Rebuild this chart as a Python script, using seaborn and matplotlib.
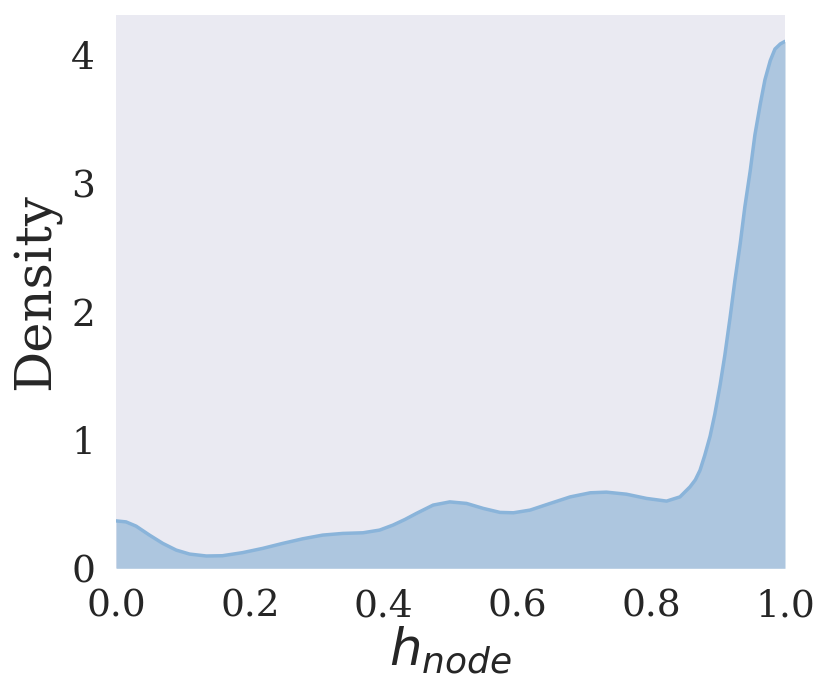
import matplotlib
matplotlib.use("Agg")
import matplotlib.pyplot as plt
import seaborn as sns
import pandas as pd

# Density curve (node homophily KDE)
h_node = [0.000, 0.015, 0.030, 0.050, 0.070, 0.090, 0.110, 0.135, 0.159, 0.189,
          0.219, 0.249, 0.279, 0.309, 0.339, 0.369, 0.394, 0.414, 0.432,
          0.449, 0.474, 0.499, 0.524, 0.549, 0.574, 0.594, 0.619, 0.649, 0.679,
          0.709, 0.733, 0.763, 0.793, 0.823, 0.843, 0.858, 0.866, 0.873, 0.880,
          0.888, 0.895, 0.903, 0.910, 0.918, 0.925, 0.933, 0.940, 0.948, 0.955,
          0.963, 0.970, 0.978, 0.985, 0.993, 1.000]
density = [0.370, 0.362, 0.329, 0.259, 0.194, 0.142, 0.111, 0.096, 0.098, 0.122,
           0.155, 0.194, 0.230, 0.259, 0.272, 0.277, 0.298, 0.337, 0.381,
           0.428, 0.493, 0.518, 0.506, 0.467, 0.436, 0.433, 0.454, 0.506, 0.557,
           0.589, 0.594, 0.578, 0.545, 0.524, 0.557, 0.635, 0.69, 0.765, 0.88,
           1.03, 1.20, 1.43, 1.66, 1.96, 2.24, 2.53, 2.82, 3.10, 3.38,
           3.62, 3.81, 3.96, 4.05, 4.09, 4.11]
y_ticks = [0, 1, 2, 3, 4]
x_ticks = [0.0, 0.2, 0.4, 0.6, 0.8, 1.0]

df = pd.DataFrame({"h": h_node, "d": density})

sns.set_theme(style="dark")
plt.rcParams["font.family"] = ["DejaVu Serif"]
plt.rcParams["mathtext.fontset"] = "dejavusans"

fig = plt.figure(figsize=(8.3, 6.97), dpi=100)
ax = fig.add_axes([116 / 830, 1 - 568.3 / 697, (785 - 116) / 830, (568.3 - 15) / 697])

ax.fill_between(df["h"], 0, df["d"], color="#adc6df", linewidth=0)
sns.lineplot(data=df, x="h", y="d", ax=ax, color="#8ab4da", linewidth=2.5)

ax.set_xlim(0, 1)
ax.set_ylim(0, max(density) * 1.05)
ax.set_xticks(x_ticks)
ax.set_xticklabels([f"{t:.1f}" for t in x_ticks])
ax.set_yticks(y_ticks)
ax.set_yticklabels([str(t) for t in y_ticks])
ax.tick_params(axis="both", labelsize=27)
ax.tick_params(axis="x", pad=8.5)
ax.tick_params(axis="y", pad=9)
ax.set_xlabel(r"$h_{node}$", fontsize=37, labelpad=0)
ax.set_ylabel("Density", fontsize=37, labelpad=7)
for s in ax.spines.values():
    s.set_visible(False)

fig.savefig("out.png", dpi=100)
